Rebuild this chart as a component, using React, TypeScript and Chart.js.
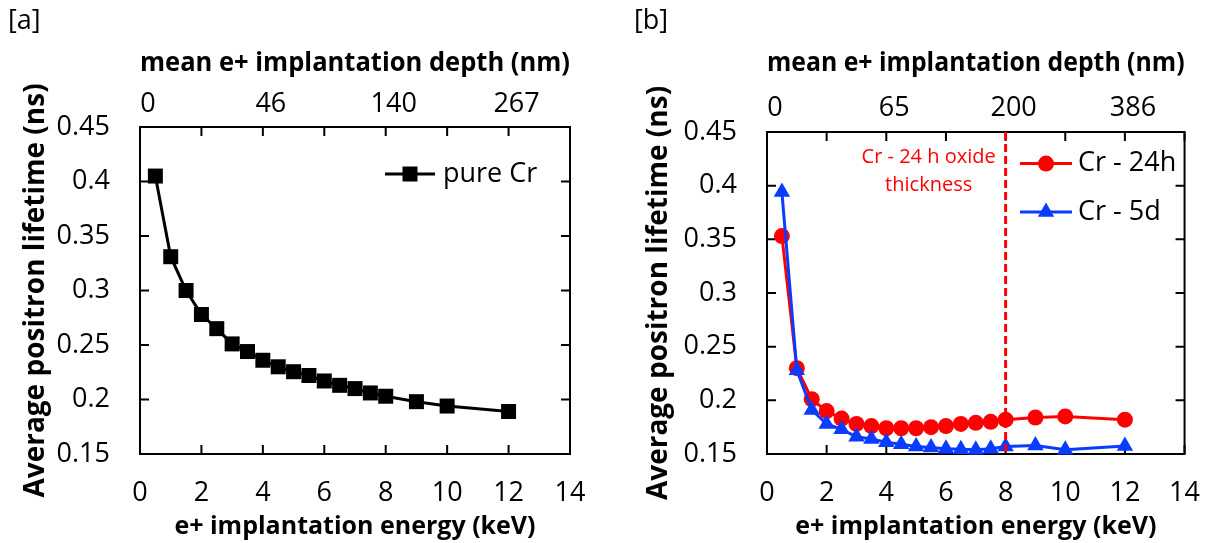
import React, { useEffect, useRef } from 'react';
import { Chart, registerables } from 'chart.js';

Chart.register(...registerables);

// ---- data ----
const energy = [0.5, 1, 1.5, 2, 2.5, 3, 3.5, 4, 4.5, 5, 5.5, 6, 6.5, 7, 7.5, 8, 9, 10, 12];
const pureCr = [0.405, 0.331, 0.300, 0.278, 0.265, 0.251, 0.244, 0.236, 0.230, 0.2255, 0.222, 0.217, 0.213, 0.210, 0.206, 0.203, 0.198, 0.194, 0.189];
const cr24h = [0.353, 0.230, 0.201, 0.190, 0.183, 0.178, 0.176, 0.174, 0.174, 0.174, 0.175, 0.176, 0.178, 0.179, 0.180, 0.182, 0.184, 0.185, 0.182];
const cr5d = [0.394, 0.228, 0.191, 0.178, 0.173, 0.166, 0.164, 0.161, 0.159, 0.157, 0.156, 0.155, 0.1545, 0.154, 0.155, 0.157, 0.158, 0.154, 0.1575];
const energyTicks = [0, 2, 4, 6, 8, 10, 12, 14];
const lifetimeTicks = [0.15, 0.2, 0.25, 0.3, 0.35, 0.4, 0.45];
const depthTickEnergy = [0, 4, 8, 12];
const depthLabelsA = ['0', '46', '140', '267'];
const depthLabelsB = ['0', '65', '200', '386'];
const oxideEnergy = 8;
const oxideNote = ['Cr - 24 h oxide', 'thickness'];

const FONT = "'Open Sans', sans-serif";
const RED = '#FF0000';
const BLUE = '#0A3CFF';

const pts = (ys: number[]) => energy.map((x, i) => ({ x, y: ys[i] }));

const framePlugin = {
  id: 'frame',
  beforeDatasetsDraw(chart: any) {
    const { ctx, chartArea: a, scales } = chart;
    ctx.save();
    ctx.strokeStyle = '#000';
    ctx.lineWidth = 2;
    ctx.strokeRect(a.left, a.top, a.right - a.left, a.bottom - a.top);
    const tl = 9;
    ctx.beginPath();
    energyTicks.forEach((v) => {
      const x = scales.x.getPixelForValue(v);
      ctx.moveTo(x, a.bottom); ctx.lineTo(x, a.bottom - tl);
      ctx.moveTo(x, a.top); ctx.lineTo(x, a.top + tl);
    });
    lifetimeTicks.forEach((v) => {
      const y = scales.y.getPixelForValue(v);
      ctx.moveTo(a.left, y); ctx.lineTo(a.left + tl, y);
      ctx.moveTo(a.right, y); ctx.lineTo(a.right - tl, y);
    });
    ctx.stroke();
    ctx.restore();
  },
};

function drawMarker(ctx: CanvasRenderingContext2D, style: string, x: number, y: number, r: number, color: string) {
  ctx.fillStyle = color;
  ctx.beginPath();
  if (style === 'rect') {
    const s = r * Math.SQRT1_2;
    ctx.rect(x - s, y - s, 2 * s, 2 * s);
  } else if (style === 'circle') {
    ctx.arc(x, y, r, 0, Math.PI * 2);
  } else if (style === 'triangle') {
    ctx.moveTo(x, y - r);
    ctx.lineTo(x - r * 0.866, y + r * 0.5);
    ctx.lineTo(x + r * 0.866, y + r * 0.5);
    ctx.closePath();
  }
  ctx.fill();
}

function legendPlugin(items: { idx: number; dy: number }[], lx0: number, lx1: number, tx: number, fontSize: number) {
  return {
    id: 'customLegend',
    afterDraw(chart: any) {
      const { ctx, chartArea: a } = chart;
      ctx.save();
      items.forEach(({ idx, dy }) => {
        const ds = chart.data.datasets[idx];
        const y = a.top + dy;
        ctx.strokeStyle = ds.borderColor;
        ctx.lineWidth = 3;
        ctx.beginPath();
        ctx.moveTo(a.left + lx0, y);
        ctx.lineTo(a.left + lx1, y);
        ctx.stroke();
        drawMarker(ctx, ds.pointStyle, a.left + (lx0 + lx1) / 2, y, ds.pointRadius, ds.backgroundColor);
        ctx.fillStyle = '#000';
        ctx.font = `${fontSize}px ${FONT}`;
        ctx.textAlign = 'left';
        ctx.textBaseline = 'middle';
        ctx.fillText(ds.label, a.left + tx, y);
      });
      ctx.restore();
    },
  };
}

const oxidePlugin = {
  id: 'oxide',
  afterDatasetsDraw(chart: any) {
    const { ctx, chartArea: a, scales } = chart;
    const x = scales.x.getPixelForValue(oxideEnergy);
    ctx.save();
    ctx.strokeStyle = RED;
    ctx.lineWidth = 3;
    ctx.setLineDash([8, 4]);
    ctx.beginPath();
    ctx.moveTo(x, a.top);
    ctx.lineTo(x, a.bottom);
    ctx.stroke();
    ctx.setLineDash([]);
    ctx.fillStyle = RED;
    ctx.font = `20px ${FONT}`;
    ctx.textAlign = 'center';
    ctx.textBaseline = 'middle';
    const cx = scales.x.getPixelForValue(5.42);
    ctx.fillText(oxideNote[0], cx, a.top + 25);
    ctx.fillText(oxideNote[1], cx, a.top + 53);
    ctx.restore();
  },
};

function makeOptions(p: {
  yWidth: number; yTitlePad: number; topHeight: number; topLabelPad: number; rightPad: number; depthLabels: string[];
}) {
  return {
    responsive: false,
    animation: false as const,
    devicePixelRatio: 1,
    layout: { padding: { left: 0, top: 0, right: p.rightPad, bottom: 0 } },
    plugins: { legend: { display: false }, tooltip: { enabled: false }, title: { display: false } },
    scales: {
      x: {
        type: 'linear' as const,
        position: 'bottom' as const,
        min: 0,
        max: 14,
        afterBuildTicks: (s: any) => { s.ticks = energyTicks.map((v) => ({ value: v })); },
        afterFit: (s: any) => { s.height = 89; },
        grid: { display: false, drawTicks: false },
        border: { display: false },
        ticks: { color: '#000', font: { family: FONT, size: 27 }, padding: 23, autoSkip: false, maxRotation: 0, callback: (v: any) => String(v) },
        title: { display: true, text: 'e+ implantation energy (keV)', color: '#000', font: { family: FONT, size: 25, weight: 'bold' as const }, padding: { top: 0, bottom: 1 } },
      },
      x2: {
        type: 'linear' as const,
        position: 'top' as const,
        min: 0,
        max: 14,
        afterBuildTicks: (s: any) => { s.ticks = energyTicks.map((v) => ({ value: v })); },
        afterFit: (s: any) => { s.height = p.topHeight; },
        grid: { display: false, drawTicks: false },
        border: { display: false },
        ticks: {
          color: '#000', font: { family: FONT, size: 27 }, padding: p.topLabelPad, autoSkip: false, maxRotation: 0, labelOffset: 8,
          callback: (v: any) => { const i = depthTickEnergy.indexOf(Number(v)); return i >= 0 ? p.depthLabels[i] : ''; },
        },
        title: { display: true, text: 'mean e+ implantation depth (nm)', color: '#000', font: { family: FONT, size: 27, weight: 'bold' as const }, padding: { top: 47, bottom: 0 } },
      },
      y: {
        type: 'linear' as const,
        position: 'left' as const,
        min: 0.15,
        max: 0.45,
        afterBuildTicks: (s: any) => { s.ticks = lifetimeTicks.map((v) => ({ value: v })); },
        afterFit: (s: any) => { s.width = p.yWidth; },
        grid: { display: false, drawTicks: false },
        border: { display: false },
        ticks: { color: '#000', font: { family: FONT, size: 27 }, padding: 30, autoSkip: false, callback: (v: any) => String(+Number(v).toFixed(2)) },
        title: { display: true, text: 'Average positron lifetime (ns)', color: '#000', font: { family: FONT, size: 28, weight: 'bold' as const }, padding: { top: p.yTitlePad, bottom: 0 } },
      },
    },
  };
}

function configA() {
  return {
    type: 'line' as const,
    data: {
      datasets: [
        {
          label: 'pure Cr', data: pts(pureCr), borderColor: '#000', backgroundColor: '#000', borderWidth: 3,
          pointStyle: 'rect', pointRadius: 10.6, pointBorderWidth: 0, pointBackgroundColor: '#000', clip: false as const,
        },
      ],
    },
    options: makeOptions({ yWidth: 140, yTitlePad: 19, topHeight: 127, topLabelPad: 6, rightPad: 40, depthLabels: depthLabelsA }),
    plugins: [framePlugin, legendPlugin([{ idx: 0, dy: 47 }], 245, 295, 303, 27)],
  };
}

function configB() {
  return {
    type: 'line' as const,
    data: {
      datasets: [
        {
          label: 'Cr - 24h', data: pts(cr24h), borderColor: RED, backgroundColor: RED, borderWidth: 3, order: 1,
          pointStyle: 'circle', pointRadius: 8, pointBorderWidth: 0, pointBackgroundColor: RED, clip: false as const,
        },
        {
          label: 'Cr - 5d', data: pts(cr5d), borderColor: BLUE, backgroundColor: BLUE, borderWidth: 3, order: 0,
          pointStyle: 'triangle', pointRadius: 9.5, pointBorderWidth: 0, pointBackgroundColor: BLUE, clip: false as const,
        },
      ],
    },
    options: makeOptions({ yWidth: 157, yTitlePad: 32, topHeight: 132, topLabelPad: 7, rightPad: 29, depthLabels: depthLabelsB }),
    plugins: [framePlugin, oxidePlugin, legendPlugin([{ idx: 0, dy: 31.6 }, { idx: 1, dy: 80 }], 253, 305, 311, 27)],
  };
}

function Panel({ make, left, width }: { make: () => any; left: number; width: number }) {
  const ref = useRef<HTMLCanvasElement>(null);
  useEffect(() => {
    const chart = new Chart(ref.current as HTMLCanvasElement, make());
    return () => chart.destroy();
  }, []);
  return (
    <canvas
      ref={ref}
      width={width}
      height={543}
      style={{ position: 'absolute', left, top: 0, width, height: 543, display: 'block' }}
    />
  );
}

export default function App() {
  const labelStyle: React.CSSProperties = {
    position: 'absolute', top: 1, fontFamily: FONT, fontSize: 27, lineHeight: '36px', color: '#000',
  };
  return (
    <div style={{ position: 'absolute', left: 0, top: 0, width: 1223, height: 543, overflow: 'hidden', background: '#fff' }}>
      <Panel make={configA} left={0} width={610} />
      <Panel make={configB} left={610} width={613} />
      <div style={{ ...labelStyle, left: 8 }}>[a]</div>
      <div style={{ ...labelStyle, left: 634 }}>[b]</div>
    </div>
  );
}
